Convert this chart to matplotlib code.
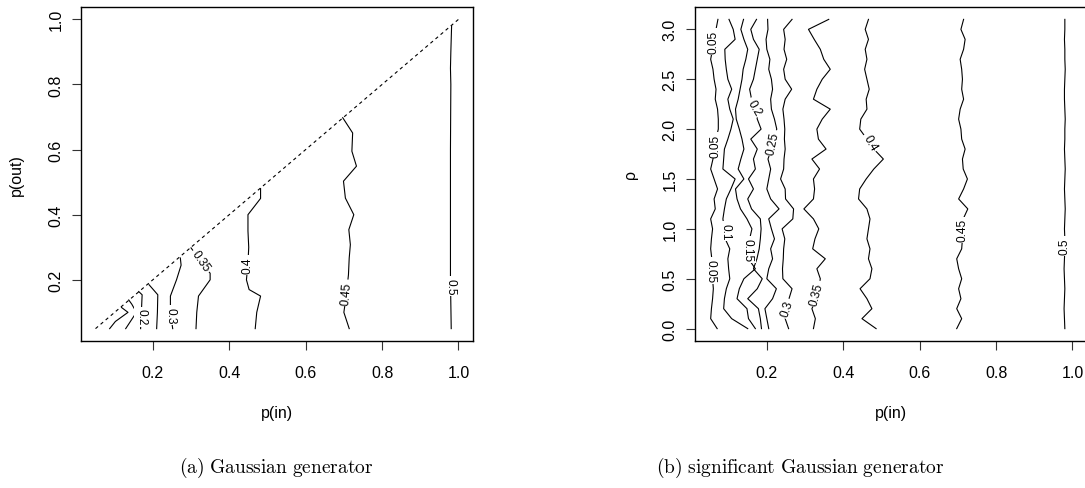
import numpy as np
import matplotlib
matplotlib.use("Agg")
import matplotlib.pyplot as plt

plt.rcParams['font.family'] = ['Liberation Sans', 'DejaVu Sans']
plt.rcParams['mathtext.fontset'] = 'cm'

# ---------------- data: panel (a) Gaussian generator ----------------
diag = [0.05, 1.0]
# contour paths: (p_in values, p_out values)
a_levels = ["0.1", "0.15", "0.2", "0.25", "0.3", "0.35", "0.4", "0.45", "0.5"]
a_x = {
    "0.1": [0.087, 0.102, 0.135, 0.118],
    "0.15": [0.129, 0.157, 0.145, 0.137],
    "0.2": [0.168, 0.170, 0.172, 0.163],
    "0.25": [0.210, 0.212, 0.213, 0.190],
    "0.3": [0.252, 0.246, 0.246, 0.262, 0.274, 0.272],
    "0.35": [0.313, 0.315, 0.3195, 0.350, 0.350, 0.330, 0.300],
    "0.4": [0.468, 0.472, 0.482, 0.452, 0.445, 0.449, 0.451, 0.449, 0.449, 0.482, 0.482],
    "0.45": [0.714, 0.700, 0.706, 0.712, 0.714, 0.717, 0.713, 0.726, 0.704, 0.699, 0.733, 0.721, 0.723, 0.697],
    "0.5": [0.981, 0.979, 0.979, 0.979, 0.980, 0.979, 0.980, 0.982],
}
a_y = {
    "0.1": [0.05, 0.072, 0.10, 0.115],
    "0.15": [0.05, 0.10, 0.125, 0.138],
    "0.2": [0.05, 0.10, 0.154, 0.164],
    "0.25": [0.05, 0.10, 0.154, 0.185],
    "0.3": [0.05, 0.10, 0.15, 0.20, 0.245, 0.267],
    "0.35": [0.05, 0.10, 0.15, 0.20, 0.22, 0.25, 0.298],
    "0.4": [0.05, 0.10, 0.15, 0.17, 0.20, 0.25, 0.30, 0.35, 0.40, 0.45, 0.48],
    "0.45": [0.05, 0.10, 0.15, 0.215, 0.267, 0.308, 0.354, 0.40, 0.451, 0.503, 0.549, 0.595, 0.651, 0.698],
    "0.5": [0.05, 0.20, 0.40, 0.60, 0.80, 0.85, 0.90, 0.98],
}
# label positions (p_in, p_out, rotation)
a_labels = {
    "0.2": (0.170, 0.087, -90),
    "0.3": (0.246, 0.092, -90),
    "0.35": (0.326, 0.257, -55),
    "0.4": (0.447, 0.246, 90),
    "0.45": (0.706, 0.160, 85),
    "0.5": (0.980, 0.180, -90),
}

# ---------------- data: panel (b) significant Gaussian generator ----------------
rho = [round(0.1 * i, 1) for i in range(32)]
b_levels = ["0.05", "0.1", "0.15", "0.2", "0.25", "0.3", "0.35", "0.4", "0.45", "0.5"]
b_x = {
    "0.05": [0.070, 0.053, 0.055, 0.058, 0.060, 0.058, 0.056, 0.056, 0.053, 0.055, 0.058, 0.053, 0.065, 0.062, 0.071, 0.062,
             0.053, 0.059, 0.063, 0.067, 0.073, 0.073, 0.071, 0.065, 0.067, 0.062, 0.059, 0.053, 0.058, 0.063, 0.067, 0.072],
    "0.1": [0.150, 0.108, 0.087, 0.089, 0.094, 0.103, 0.100, 0.098, 0.103, 0.091, 0.089, 0.085, 0.089, 0.094, 0.106, 0.117,
            0.085, 0.087, 0.089, 0.098, 0.106, 0.112, 0.103, 0.098, 0.108, 0.098, 0.094, 0.091, 0.090, 0.117, 0.112, 0.101],
    "0.15": [0.170, 0.152, 0.148, 0.122, 0.128, 0.140, 0.170, 0.152, 0.150, 0.155, 0.161, 0.148, 0.131, 0.122, 0.118, 0.140,
             0.125, 0.132, 0.140, 0.135, 0.128, 0.120, 0.118, 0.125, 0.130, 0.135, 0.138, 0.145, 0.150, 0.140, 0.132, 0.139],
    "0.2": [0.186, 0.183, 0.178, 0.150, 0.175, 0.188, 0.165, 0.174, 0.180, 0.183, 0.185, 0.183, 0.160, 0.150, 0.165, 0.152,
            0.170, 0.165, 0.175, 0.158, 0.185, 0.175, 0.171, 0.160, 0.155, 0.165, 0.170, 0.175, 0.180, 0.165, 0.158, 0.173],
    "0.25": [0.205, 0.200, 0.195, 0.215, 0.225, 0.200, 0.205, 0.215, 0.210, 0.220, 0.212, 0.205, 0.232, 0.210, 0.200, 0.205,
             0.210, 0.203, 0.212, 0.218, 0.226, 0.220, 0.212, 0.210, 0.215, 0.212, 0.205, 0.208, 0.200, 0.198, 0.203, 0.202],
    "0.3": [0.257, 0.248, 0.252, 0.258, 0.266, 0.242, 0.241, 0.243, 0.244, 0.247, 0.240, 0.268, 0.270, 0.249, 0.248, 0.236,
            0.244, 0.245, 0.248, 0.246, 0.247, 0.245, 0.242, 0.248, 0.265, 0.248, 0.244, 0.252, 0.245, 0.248, 0.244, 0.266],
    "0.35": [0.322, 0.327, 0.318, 0.330, 0.335, 0.340, 0.331, 0.353, 0.320, 0.326, 0.336, 0.322, 0.297, 0.322, 0.325, 0.322,
             0.338, 0.318, 0.355, 0.335, 0.331, 0.345, 0.366, 0.322, 0.331, 0.345, 0.366, 0.349, 0.340, 0.324, 0.309, 0.362],
    "0.4": [0.486, 0.449, 0.475, 0.462, 0.444, 0.470, 0.475, 0.466, 0.470, 0.462, 0.466, 0.470, 0.462, 0.440, 0.443, 0.460,
            0.480, 0.505, 0.480, 0.462, 0.443, 0.446, 0.462, 0.460, 0.468, 0.462, 0.456, 0.462, 0.4575, 0.466, 0.4575, 0.466],
    "0.45": [0.697, 0.710, 0.697, 0.708, 0.702, 0.710, 0.702, 0.697, 0.710, 0.712, 0.712, 0.714, 0.726, 0.702, 0.715, 0.725,
             0.714, 0.712, 0.719, 0.710, 0.708, 0.702, 0.706, 0.715, 0.710, 0.712, 0.710, 0.706, 0.715, 0.719, 0.708, 0.715],
    "0.5": [0.980, 0.979, 0.978, 0.979, 0.980, 0.979, 0.978, 0.979, 0.980, 0.980, 0.979, 0.980, 0.981, 0.980, 0.979, 0.980,
            0.981, 0.980, 0.979, 0.980, 0.980, 0.981, 0.980, 0.979, 0.979, 0.980, 0.981, 0.980, 0.980, 0.979, 0.980, 0.980],
}
b_labels = {
    "0.05": [(0.060, 2.88, 90), (0.065, 1.84, 90), (0.053, 0.58, -90)],
    "0.1": [(0.091, 0.98, -90)],
    "0.15": [(0.150, 0.79, -90)],
    "0.2": [(0.168, 2.22, -60)],
    "0.25": [(0.215, 1.86, 78)],
    "0.3": [(0.253, 0.20, 72)],
    "0.35": [(0.330, 0.35, 75)],
    "0.4": [(0.470, 1.86, -60)],
    "0.45": [(0.712, 0.99, 90)],
    "0.5": [(0.980, 0.83, 90)],
}

x_ticks = [0.2, 0.4, 0.6, 0.8, 1.0]
a_yticks = [0.2, 0.4, 0.6, 0.8, 1.0]
b_yticks = [0.0, 0.5, 1.0, 1.5, 2.0, 2.5, 3.0]
captions = ["(a) Gaussian generator", "(b) significant Gaussian generator"]

# ---------------- drawing ----------------
W, H = 1085, 489
fig = plt.figure(figsize=(W / 100, H / 100), dpi=100)
axA = fig.add_axes([81 / W, 1 - 342 / H, 392 / W, 334 / H])
axB = fig.add_axes([695 / W, 1 - 342 / H, 392 / W, 334 / H])

LW = 0.8
lab_fs = 8.6
tick_fs = 11.5


def style(ax, yticks, xlabel, ylabel):
    ax.set_xticks(x_ticks)
    ax.set_xticklabels([f"{t:.1f}" for t in x_ticks])
    ax.set_yticks(yticks)
    ax.set_yticklabels([f"{t:.1f}" for t in yticks], rotation=90, va='center')
    ax.tick_params(direction='out', length=6.5, width=0.8, color='#333333',
                   labelsize=tick_fs, pad=11)
    ax.tick_params(axis='y', pad=6)
    for s in ax.spines.values():
        s.set_linewidth(1.0)
    ax.set_xlabel(xlabel, fontsize=tick_fs, labelpad=18)
    ax.set_ylabel(ylabel, fontsize=tick_fs, labelpad=18)


def put_label(ax, x, y, rot, txt):
    ax.text(x, y, txt, rotation=rot, rotation_mode='anchor', ha='center', va='center',
            fontsize=lab_fs, zorder=5,
            bbox=dict(boxstyle='square,pad=0.15', fc='white', ec='none'))


# panel a
axA.plot(diag, diag, color='black', lw=LW, linestyle=(0, (3, 3)))
for lev in a_levels:
    axA.plot(a_x[lev], a_y[lev], color='black', lw=LW)
for lev, (x, y, r) in a_labels.items():
    put_label(axA, x, y, r, lev)
axA.set_xlim(0.05 - 0.038, 1.0 + 0.038)
axA.set_ylim(0.05 - 0.038, 1.0 + 0.038)
style(axA, a_yticks, "p(in)", "p(out)")

# panel b
for lev in b_levels:
    axB.plot(b_x[lev], rho, color='black', lw=LW)
    for (x, y, r) in b_labels[lev]:
        put_label(axB, x, y, r, lev)
axB.set_xlim(0.05 - 0.038, 1.0 + 0.038)
axB.set_ylim(0 - 0.124, 3.1 + 0.124)
style(axB, b_yticks, "p(in)", "ρ")

cap_math = [r'$\mathrm{' + c.replace(' ', r'\ ') + '}$' for c in captions]
fig.text(276 / W, 1 - 468 / H, cap_math[0], ha='center', va='center', fontsize=14)
fig.text(800 / W, 1 - 468 / H, cap_math[1], ha='center', va='center', fontsize=14)

fig.savefig("out.png", dpi=100)
